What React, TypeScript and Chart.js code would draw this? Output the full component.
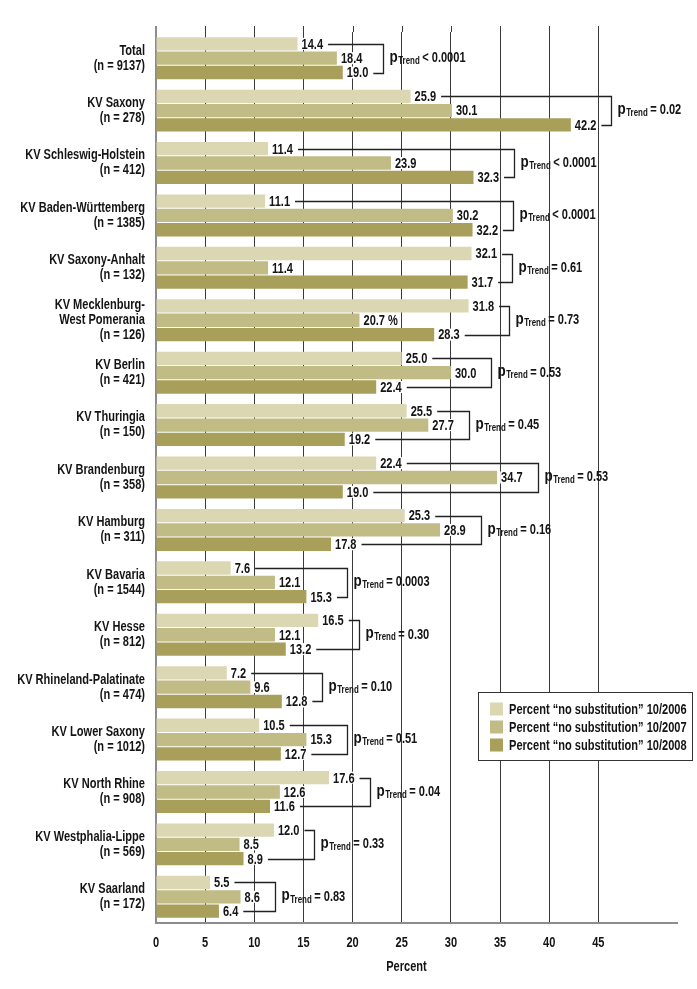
import React, { useEffect, useRef } from 'react';
import { Chart, registerables } from 'chart.js';

Chart.register(...registerables);

const categories: string[][] = [
  ['Total', '(n = 9137)'],
  ['KV Saxony', '(n = 278)'],
  ['KV Schleswig-Holstein', '(n = 412)'],
  ['KV Baden-Württemberg', '(n = 1385)'],
  ['KV Saxony-Anhalt', '(n = 132)'],
  ['KV Mecklenburg-', 'West Pomerania', '(n = 126)'],
  ['KV Berlin', '(n = 421)'],
  ['KV Thuringia', '(n = 150)'],
  ['KV Brandenburg', '(n = 358)'],
  ['KV Hamburg', '(n = 311)'],
  ['KV Bavaria', '(n = 1544)'],
  ['KV Hesse', '(n = 812)'],
  ['KV Rhineland-Palatinate', '(n = 474)'],
  ['KV Lower Saxony', '(n = 1012)'],
  ['KV North Rhine', '(n = 908)'],
  ['KV Westphalia-Lippe', '(n = 569)'],
  ['KV Saarland', '(n = 172)'],
];

const values2006 = [14.4, 25.9, 11.4, 11.1, 32.1, 31.8, 25.0, 25.5, 22.4, 25.3, 7.6, 16.5, 7.2, 10.5, 17.6, 12.0, 5.5];
const values2007 = [18.4, 30.1, 23.9, 30.2, 11.4, 20.7, 30.0, 27.7, 34.7, 28.9, 12.1, 12.1, 9.6, 15.3, 12.6, 8.5, 8.6];
const values2008 = [19.0, 42.2, 32.3, 32.2, 31.7, 28.3, 22.4, 19.2, 19.0, 17.8, 15.3, 13.2, 12.8, 12.7, 11.6, 8.9, 6.4];

const pTrend = ['< 0.0001', '= 0.02', '< 0.0001', '< 0.0001', '= 0.61', '= 0.73', '= 0.53', '= 0.45', '= 0.53', '= 0.16', '= 0.0003', '= 0.30', '= 0.10', '= 0.51', '= 0.04', '= 0.33', '= 0.83'];

// label text quirks as printed in the source (series index, category index -> suffix)
const labelSuffixes: { series: number; index: number; suffix: string }[] = [{ series: 1, index: 5, suffix: ' %' }];

const seriesLabels = [
  'Percent “no substitution” 10/2006',
  'Percent “no substitution” 10/2007',
  'Percent “no substitution” 10/2008',
];

const xTickValues = [0, 5, 10, 15, 20, 25, 30, 35, 40, 45];
const xAxisTitle = 'Percent';

const COLORS = ['#dbd7b2', '#c1bb86', '#a89f5a'];
const FONT = '"Liberation Sans", Arial, Helvetica, sans-serif';
const TEXT = '#141414';
const SX = 0.79; // horizontal compression to mimic a condensed bold face

function drawText(ctx: CanvasRenderingContext2D, s: string, x: number, y: number, size: number, align: CanvasTextAlign = 'left') {
  ctx.save();
  ctx.font = `bold ${size}px ${FONT}`;
  ctx.translate(x, y);
  ctx.scale(SX, 1);
  ctx.textAlign = align;
  ctx.textBaseline = 'middle';
  ctx.fillStyle = TEXT;
  ctx.fillText(s, 0, 0);
  ctx.restore();
}

function textWidth(ctx: CanvasRenderingContext2D, s: string, size: number) {
  ctx.save();
  ctx.font = `bold ${size}px ${FONT}`;
  const w = ctx.measureText(s).width * SX;
  ctx.restore();
  return w;
}

const annotPlugin = {
  id: 'annot',
  beforeDatasetsDraw(chart: any) {
    // grid lines reach slightly above the plot area, as in the source
    const ctx: CanvasRenderingContext2D = chart.ctx;
    const x = chart.scales.x;
    const area = chart.chartArea;
    ctx.save();
    ctx.strokeStyle = '#3a3a3a';
    ctx.lineWidth = 1;
    for (const v of xTickValues) {
      if (v === 0) continue;
      const px = Math.round(x.getPixelForValue(v)) + 0.5;
      ctx.beginPath();
      ctx.moveTo(px, area.top - 6);
      ctx.lineTo(px, area.top);
      ctx.stroke();
    }
    ctx.strokeStyle = '#8c8c8c';
    ctx.lineWidth = 2;
    ctx.beginPath();
    ctx.moveTo(area.left, area.top - 6);
    ctx.lineTo(area.left, area.top);
    ctx.stroke();
    ctx.restore();
  },
  afterDatasetsDraw(chart: any) {
    const ctx: CanvasRenderingContext2D = chart.ctx;
    const xs = chart.scales.x;
    const ys = chart.scales.y;
    const area = chart.chartArea;
    ctx.save();
    const n = categories.length;
    for (let i = 0; i < n; i++) {
      const ends: number[] = [];
      const yy: number[] = [];
      for (let d = 0; d < 3; d++) {
        const bar = chart.getDatasetMeta(d).data[i];
        const v = chart.data.datasets[d].data[i] as number;
        const sfx = labelSuffixes.find((s) => s.series === d && s.index === i);
        const txt = v.toFixed(1) + (sfx ? sfx.suffix : '');
        const w = textWidth(ctx, txt, 14);
        const tx = bar.x + 4;
        ctx.fillStyle = '#ffffff';
        ctx.fillRect(tx - 1, bar.y - 6, w + 2, 12);
        drawText(ctx, txt, tx, bar.y + 1, 14);
        ends.push(tx + w);
        yy.push(bar.y);
      }
      const bx = Math.round(Math.max(...ends) + 15) + 0.5;
      ctx.strokeStyle = '#222';
      ctx.lineWidth = 1.3;
      ctx.beginPath();
      ctx.moveTo(ends[0] + 5, Math.round(yy[0]) + 0.5);
      ctx.lineTo(bx, Math.round(yy[0]) + 0.5);
      ctx.lineTo(bx, Math.round(yy[2]) + 0.5);
      ctx.lineTo(ends[2] + 5, Math.round(yy[2]) + 0.5);
      ctx.stroke();

      let px = bx + 6;
      const py = yy[1];
      drawText(ctx, 'p', px, py - 1, 17);
      px += textWidth(ctx, 'p', 17) + 0.5;
      drawText(ctx, 'Trend', px, py + 3, 10);
      px += textWidth(ctx, 'Trend', 10) + 2.5;
      drawText(ctx, pTrend[i], px, py, 14);
    }

    // category labels
    categories.forEach((lines, i) => {
      const cy = ys.getPixelForValue(i);
      const lh = 15;
      const y0 = cy - ((lines.length - 1) * lh) / 2;
      lines.forEach((ln, k) => drawText(ctx, ln, area.left - 11, y0 + k * lh, 14, 'right'));
    });

    // x tick labels and title
    for (const v of xTickValues) {
      drawText(ctx, String(v), xs.getPixelForValue(v), area.bottom + 20, 14, 'center');
    }
    drawText(ctx, xAxisTitle, (xs.getPixelForValue(0) + xs.getPixelForValue(53)) / 2 - 10, area.bottom + 44, 14, 'center');

    // legend box
    const lx = area.right - 199;
    const ly = 692;
    const lw = 214;
    const lh = 68;
    ctx.fillStyle = '#ffffff';
    ctx.fillRect(lx, ly, lw, lh);
    ctx.strokeStyle = '#333';
    ctx.lineWidth = 1;
    ctx.strokeRect(Math.round(lx) + 0.5, ly + 0.5, lw, lh);
    for (let d = 0; d < 3; d++) {
      const cy = ly + 17 + d * 18;
      ctx.fillStyle = COLORS[d];
      ctx.fillRect(lx + 12, cy - 6.5, 13, 13);
      drawText(ctx, chart.data.datasets[d].label, lx + 31, cy + 1, 14);
    }
    ctx.restore();
  },
};

export default function App() {
  const ref = useRef<HTMLCanvasElement | null>(null);

  useEffect(() => {
    if (!ref.current) return;
    const chart = new Chart(ref.current, {
      type: 'bar',
      data: {
        labels: categories.map((c) => c.join(' ')),
        datasets: [values2006, values2007, values2008].map((vals, d) => ({
          label: seriesLabels[d],
          data: vals,
          backgroundColor: COLORS[d],
          borderWidth: 0,
          barPercentage: 0.93,
          categoryPercentage: 0.82,
        })),
      },
      options: {
        indexAxis: 'y',
        responsive: false,
        animation: false,
        layout: { padding: { top: 32, right: 20, left: 0, bottom: 0 } },
        plugins: {
          legend: { display: false },
          tooltip: { enabled: false },
        },
        scales: {
          x: {
            type: 'linear',
            min: 0,
            max: 53,
            afterFit: (s: any) => {
              s.height = 66;
            },
            ticks: {
              stepSize: 5,
              display: false,
            },
            grid: {
              drawTicks: false,
              lineWidth: 1,
              color: (c: any) => (c.tick && xTickValues.includes(c.tick.value) ? '#3a3a3a' : 'rgba(0,0,0,0)'),
            },
            border: { color: '#8c8c8c', width: 2 },
          },
          y: {
            afterFit: (s: any) => {
              s.width = 156;
            },
            ticks: { display: false },
            grid: { display: false, drawTicks: false },
            border: { color: '#8c8c8c', width: 2 },
          },
        },
      },
      plugins: [annotPlugin],
    });
    return () => chart.destroy();
  }, []);

  return (
    <div style={{ position: 'absolute', left: 0, top: 0, width: 697, height: 989, background: '#fff' }}>
      <canvas ref={ref} width={697} height={989} style={{ display: 'block', width: 697, height: 989 }} />
    </div>
  );
}
